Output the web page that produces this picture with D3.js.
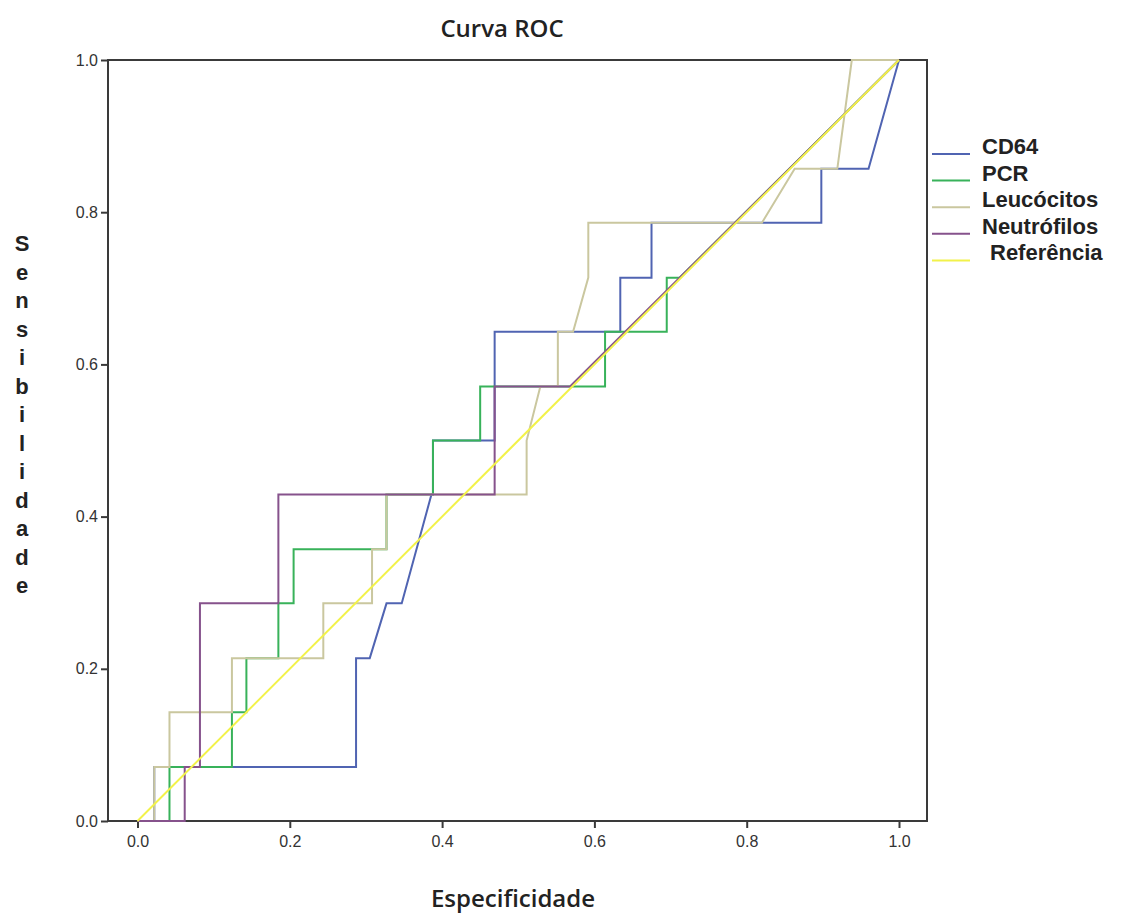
<!DOCTYPE html>
<html>
<head>
<meta charset="utf-8">
<script src="https://cdn.jsdelivr.net/npm/d3@7"></script>
<style>
  body { margin: 0; background: #fff; }
  svg text { font-family: "Open Sans", sans-serif; }
</style>
</head>
<body>
<div id="chart"></div>
<script>
// Define constants
const WIDTH = 1130;
const HEIGHT = 918;

// Series names (legend order)
const SERIES_NAMES = ["CD64", "PCR", "Leucócitos", "Neutrófilos", "Referência"];
const SERIES_COLORS = ["#5064b2", "#38b25a", "#cac79f", "#86528c", "#f2f24a"];

// ROC points [1 - especificidade, sensibilidade]
const cd64 = [
  [0, 0], [0.022, 0], [0.022, 0.071], [0.287, 0.071], [0.287, 0.214], [0.305, 0.214],
  [0.327, 0.286], [0.347, 0.286], [0.386, 0.429], [0.388, 0.429], [0.388, 0.5],
  [0.469, 0.5], [0.469, 0.643], [0.634, 0.643], [0.634, 0.714], [0.675, 0.714],
  [0.675, 0.786], [0.898, 0.786], [0.898, 0.857], [0.96, 0.857], [1, 1]
];
const pcr = [
  [0, 0], [0.042, 0], [0.042, 0.071], [0.124, 0.071], [0.124, 0.143], [0.143, 0.143],
  [0.143, 0.214], [0.185, 0.214], [0.185, 0.286], [0.205, 0.286], [0.205, 0.357],
  [0.327, 0.357], [0.327, 0.429], [0.388, 0.429], [0.388, 0.5], [0.45, 0.5],
  [0.45, 0.571], [0.614, 0.571], [0.614, 0.643], [0.695, 0.643], [0.695, 0.714],
  [0.712, 0.714], [1, 1]
];
const leucocitos = [
  [0, 0], [0.022, 0], [0.022, 0.071], [0.042, 0.071], [0.042, 0.143], [0.124, 0.143],
  [0.124, 0.214], [0.244, 0.214], [0.244, 0.286], [0.308, 0.286], [0.308, 0.357],
  [0.327, 0.357], [0.327, 0.429], [0.511, 0.429], [0.511, 0.5], [0.529, 0.571],
  [0.552, 0.571], [0.552, 0.643], [0.572, 0.643], [0.592, 0.714], [0.592, 0.786],
  [0.82, 0.786], [0.863, 0.857], [0.919, 0.857], [0.938, 1], [1, 1]
];
const neutrofilos = [
  [0, 0], [0.062, 0], [0.062, 0.071], [0.082, 0.071], [0.082, 0.286], [0.185, 0.286],
  [0.185, 0.429], [0.469, 0.429], [0.469, 0.571], [0.568, 0.571], [1, 1]
];
const referencia = [[0, 0], [1, 1]];

const TICKS = [0, 0.2, 0.4, 0.6, 0.8, 1.0];
const Y_LABEL = "Sensibilidade";

// Draw chart
function drawRoc() {
  const svg = d3.select("#chart")
    .append("svg")
    .attr("width", WIDTH)
    .attr("height", HEIGHT);

  svg.append("rect").attr("width", WIDTH).attr("height", HEIGHT).attr("fill", "#fff");

  const x = d3.scaleLinear().domain([0, 1]).range([137.5, 899]);
  const y = d3.scaleLinear().domain([0, 1]).range([821, 60]);

  // frame
  svg.append("rect")
    .attr("x", 108)
    .attr("y", 60)
    .attr("width", 819)
    .attr("height", 761)
    .attr("fill", "none")
    .attr("stroke", "#3a3a3a")
    .attr("stroke-width", 2);

  // axes
  const xAxis = d3.axisBottom(x).tickValues(TICKS).tickFormat(d3.format(".1f")).tickSize(7).tickPadding(8);
  const yAxis = d3.axisLeft(y).tickValues(TICKS).tickFormat(d3.format(".1f")).tickSize(7).tickPadding(3);

  const gx = svg.append("g").attr("transform", "translate(0,821)").call(xAxis);
  const gy = svg.append("g").attr("transform", "translate(108,0)").call(yAxis);
  [gx, gy].forEach(g => {
    g.select(".domain").remove();
    g.selectAll(".tick line").attr("stroke", "#3a3a3a").attr("stroke-width", 2);
    g.selectAll(".tick text")
      .style("font-family", "'Liberation Sans', Arial, sans-serif")
      .style("font-size", "16px")
      .attr("fill", "#333");
  });

  // curves
  const line = d3.line().x(d => x(d[0])).y(d => y(d[1]));
  const allSeries = [cd64, pcr, leucocitos, neutrofilos, referencia];
  svg.append("g")
    .selectAll("path")
    .data(allSeries)
    .enter()
    .append("path")
    .attr("d", line)
    .attr("fill", "none")
    .attr("stroke", (d, i) => SERIES_COLORS[i])
    .attr("stroke-width", 2);

  // title
  svg.append("text")
    .attr("x", 502)
    .attr("y", 37)
    .attr("text-anchor", "middle")
    .style("font-size", "24px")
    .style("font-weight", 600)
    .attr("fill", "#222")
    .text("Curva ROC");

  // x label
  svg.append("text")
    .attr("x", 513)
    .attr("y", 907)
    .attr("text-anchor", "middle")
    .style("font-size", "24px")
    .style("font-weight", 600)
    .attr("fill", "#222")
    .text("Especificidade");

  // y label, one letter per line
  svg.append("g")
    .selectAll("text")
    .data(Y_LABEL.split(""))
    .enter()
    .append("text")
    .attr("x", 22)
    .attr("y", (d, i) => 251 + i * 28.5)
    .attr("text-anchor", "middle")
    .style("font-family", "'Liberation Sans', Arial, sans-serif")
    .style("font-size", "22px")
    .style("font-weight", 700)
    .attr("fill", "#222")
    .text(d => d);

  // legend
  const legend = svg.append("g");
  SERIES_NAMES.forEach((name, i) => {
    const ly = 154 + i * 26.6;
    legend.append("line")
      .attr("x1", 932).attr("x2", 970)
      .attr("y1", ly).attr("y2", ly)
      .attr("stroke", SERIES_COLORS[i])
      .attr("stroke-width", 2);
    legend.append("text")
      .attr("x", i === 4 ? 990 : 982)
      .attr("y", ly)
      .style("font-family", "'Liberation Sans', Arial, sans-serif")
      .style("font-size", "22px")
      .style("font-weight", 700)
      .attr("fill", "#222")
      .text(name);
  });
}

drawRoc();
</script>
</body>
</html>
